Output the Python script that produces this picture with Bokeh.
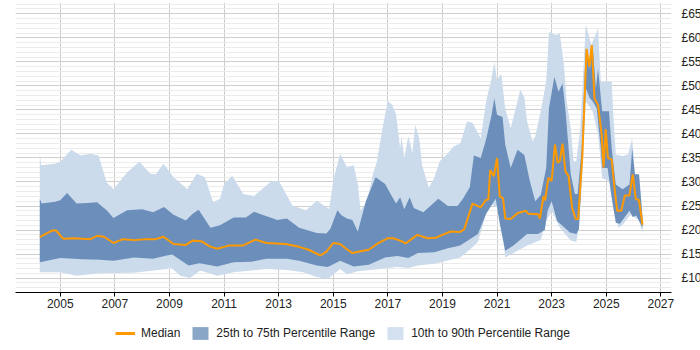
from bokeh.plotting import figure
from bokeh.layouts import column
from bokeh.models import (Range1d, FixedTicker, SingleIntervalTicker, PrintfTickFormatter,
                          LinearAxis, Legend, LegendItem)
from bokeh.embed import file_html
from bokeh.resources import INLINE

# Median hourly rate (decimal year, £)
median_t = [2004.25, 2004.5, 2004.7, 2004.85, 2005.1, 2005.5, 2006.1, 2006.35, 2006.6, 2006.95,
            2007.3, 2007.7, 2008.1, 2008.5, 2008.78, 2009.15, 2009.6, 2009.85, 2010.2, 2010.47,
            2010.75, 2011.2, 2011.7, 2012.15, 2012.55, 2013.25, 2013.75, 2014.1, 2014.53, 2014.75,
            2015.0, 2015.25, 2015.5, 2015.7, 2016.0, 2016.3, 2016.6, 2017.0, 2017.2, 2017.45,
            2017.65, 2018.08, 2018.45, 2018.75, 2019.0, 2019.3, 2019.65, 2019.8, 2020.1, 2020.4,
            2020.6, 2020.68, 2020.75, 2020.88, 2021.0, 2021.1, 2021.22, 2021.3, 2021.5, 2021.75,
            2022.05, 2022.15, 2022.5, 2022.57, 2022.7, 2022.76, 2022.88, 2023.0, 2023.12, 2023.22,
            2023.3, 2023.4, 2023.5, 2023.62, 2023.75, 2023.88, 2023.97, 2024.12, 2024.28, 2024.38,
            2024.47, 2024.57, 2024.7, 2024.83, 2024.9, 2024.98, 2025.06, 2025.2, 2025.3, 2025.4,
            2025.55, 2025.68, 2025.85, 2025.97, 2026.08, 2026.2, 2026.33]
median_v = [18.5, 19.3, 19.9, 19.9, 18.2, 18.3, 18.1, 18.8, 18.6, 17.3,
            18.1, 17.9, 18.1, 18.1, 18.6, 17.1, 16.9, 17.8, 17.6, 16.6,
            16.1, 16.8, 16.8, 18.0, 17.3, 17.1, 16.5, 15.9, 14.7, 15.5,
            17.3, 17.1, 16.0, 15.2, 15.6, 15.9, 17.1, 18.3, 18.3, 17.8,
            17.2, 19.0, 18.3, 18.4, 19.0, 19.7, 19.6, 20.2, 25.5, 24.7,
            26.3, 26.3, 32.5, 31.2, 35.0, 27.0, 26.6, 22.4, 22.3, 23.5,
            24.0, 23.4, 23.3, 22.4, 27.0, 26.2, 30.9, 30.2, 37.8, 34.0,
            34.4, 38.0, 32.3, 31.2, 24.6, 22.3, 22.3, 35.0, 57.7, 54.0,
            58.5, 47.4, 46.0, 39.9, 33.0, 41.0, 35.0, 34.7, 28.8, 24.0,
            24.0, 27.2, 27.2, 31.6, 26.5, 26.2, 21.1]

# 75th percentile
p75_t = [2004.25, 2004.32, 2004.8, 2005.0, 2005.25, 2005.6, 2006.0, 2006.35, 2006.7, 2006.95,
         2007.45, 2008.0, 2008.4, 2008.8, 2009.15, 2009.6, 2009.85, 2010.07, 2010.5, 2010.85,
         2011.35, 2011.8, 2012.1, 2012.4, 2012.95, 2013.3, 2013.75, 2014.4, 2014.75, 2014.9,
         2015.15, 2015.3, 2015.5, 2015.7, 2015.9, 2016.2, 2016.55, 2016.9, 2017.1, 2017.3,
         2017.45, 2017.6, 2017.8, 2017.95, 2018.3, 2018.85, 2019.2, 2019.55, 2019.75, 2020.0,
         2020.15, 2020.4, 2020.6, 2020.8, 2020.9, 2021.0, 2021.2, 2021.3, 2021.5, 2021.75,
         2022.0, 2022.2, 2022.4, 2022.6, 2022.8, 2022.9, 2023.1, 2023.25, 2023.4, 2023.5,
         2023.6, 2023.7, 2023.85, 2023.95, 2024.1, 2024.25, 2024.4, 2024.5, 2024.62, 2024.7,
         2024.85, 2025.1, 2025.2, 2025.35, 2025.6, 2025.85, 2025.95, 2026.05, 2026.2, 2026.33]
p75_v = [26.5, 25.5, 25.9, 26.2, 27.7, 25.5, 25.6, 25.8, 24.1, 22.5,
         24.1, 24.3, 23.7, 24.8, 23.2, 22.0, 23.4, 24.2, 20.5, 21.0,
         22.6, 22.6, 23.8, 23.2, 22.1, 22.4, 20.5, 19.4, 19.3, 20.3,
         24.1, 23.1, 22.4, 22.1, 19.7, 26.1, 31.0, 29.6, 27.5, 25.5,
         26.8, 24.3, 26.8, 24.6, 23.7, 26.5, 25.0, 25.0, 26.5, 28.9,
         35.5, 35.0, 38.9, 44.0, 47.4, 44.0, 43.5, 37.8, 32.9, 36.7,
         35.6, 30.2, 26.0, 27.3, 32.9, 45.3, 51.9, 48.8, 50.5, 45.3,
         38.5, 31.6, 27.5, 27.5, 37.0, 57.7, 53.5, 58.5, 49.5, 53.6,
         44.7, 44.7, 37.0, 29.5, 28.5, 29.5, 37.0, 31.6, 31.6, 22.5]

# 25th percentile
p25_t = [2004.25, 2005.0, 2005.8, 2006.45, 2006.95, 2007.7, 2008.4, 2008.9, 2009.1, 2009.7,
         2010.1, 2010.75, 2011.35, 2012.0, 2012.55, 2013.3, 2013.75, 2014.4, 2014.8, 2015.25,
         2015.75, 2016.3, 2016.9, 2017.35, 2017.75, 2018.1, 2018.7, 2019.2, 2019.65, 2020.3,
         2020.6, 2020.95, 2021.1, 2021.3, 2021.6, 2022.1, 2022.5, 2022.75, 2022.85, 2023.0,
         2023.2, 2023.67, 2023.9, 2024.0, 2024.1, 2024.25, 2024.4, 2024.5, 2024.65, 2024.8,
         2024.85, 2025.05, 2025.2, 2025.35, 2025.5, 2025.85, 2025.97, 2026.1, 2026.33]
p25_v = [13.3, 14.2, 13.9, 13.8, 13.6, 14.3, 14.0, 14.7, 14.9, 12.6,
         13.1, 12.4, 13.3, 13.4, 14.0, 14.0, 13.6, 12.6, 12.3, 13.6,
         12.4, 12.8, 14.3, 14.6, 14.2, 15.2, 15.4, 16.2, 16.8, 19.2,
         23.4, 26.5, 21.3, 15.7, 16.8, 19.2, 19.2, 20.0, 24.0, 26.0,
         21.9, 19.5, 19.2, 20.2, 31.6, 49.5, 47.4, 46.8, 45.3, 37.0,
         32.9, 32.9, 26.7, 21.5, 21.3, 24.0, 22.7, 23.0, 20.5]

# 90th percentile
p90_t = [2004.25, 2004.3, 2004.8, 2005.0, 2005.4, 2005.75, 2006.1, 2006.4, 2006.7, 2006.95,
         2007.45, 2007.9, 2008.3, 2008.5, 2008.78, 2009.15, 2009.65, 2010.0, 2010.3, 2010.6,
         2010.85, 2011.0, 2011.3, 2011.7, 2012.1, 2012.7, 2013.0, 2013.5, 2014.0, 2014.4,
         2014.85, 2015.0, 2015.25, 2015.5, 2015.75, 2015.9, 2016.0, 2016.25, 2016.45, 2016.6,
         2016.8, 2017.0, 2017.15, 2017.3, 2017.45, 2017.5, 2017.6, 2017.75, 2017.9, 2018.0,
         2018.15, 2018.25, 2018.5, 2018.7, 2018.9, 2019.2, 2019.4, 2019.65, 2019.9, 2020.1,
         2020.4, 2020.6, 2020.8, 2020.9, 2021.0, 2021.15, 2021.3, 2021.5, 2021.7, 2021.85,
         2022.0, 2022.1, 2022.3, 2022.4, 2022.6, 2022.8, 2022.9, 2023.15, 2023.3, 2023.45,
         2023.55, 2023.7, 2023.8, 2023.9, 2024.05, 2024.25, 2024.45, 2024.7, 2024.8, 2025.2,
         2025.25, 2025.35, 2025.6, 2025.8, 2025.95, 2026.05, 2026.2, 2026.33]
p90_v = [35.9, 33.5, 33.8, 34.2, 36.7, 35.5, 35.9, 35.5, 29.9, 28.5,
         32.0, 34.2, 31.7, 31.6, 33.8, 31.0, 28.5, 31.7, 31.0, 25.8,
         26.5, 29.6, 31.3, 27.5, 27.1, 30.0, 30.3, 25.1, 24.1, 26.1,
         24.4, 30.3, 35.9, 33.1, 33.5, 29.6, 24.1, 26.1, 31.6, 34.3,
         41.2, 46.8, 46.1, 44.1, 37.0, 39.5, 35.0, 39.5, 36.0, 41.9,
         39.1, 33.6, 28.8, 30.9, 34.3, 36.0, 37.4, 38.0, 42.6, 42.3,
         39.1, 46.8, 51.6, 55.0, 51.0, 52.6, 45.3, 41.2, 45.7, 49.2,
         47.6, 42.6, 38.5, 39.5, 44.7, 50.9, 61.2, 60.6, 60.9, 54.4,
         46.8, 41.2, 34.3, 34.3, 41.2, 62.9, 58.5, 61.9, 50.9, 50.9,
         44.7, 35.7, 35.4, 35.7, 39.1, 31.6, 31.6, 22.5]

# 10th percentile
p10_t = [2004.25, 2005.0, 2005.6, 2006.45, 2007.7, 2008.9, 2009.05, 2009.4, 2009.75, 2010.13,
         2010.75, 2011.35, 2012.55, 2013.3, 2013.9, 2014.4, 2014.8, 2015.25, 2015.5, 2015.9,
         2016.7, 2017.35, 2017.75, 2018.1, 2018.7, 2019.65, 2020.1, 2020.3, 2020.6, 2020.75,
         2021.0, 2021.2, 2021.3, 2021.6, 2022.1, 2022.6, 2022.8, 2023.0, 2023.3, 2023.7,
         2023.9, 2024.0, 2024.1, 2024.25, 2024.5, 2024.7, 2024.85, 2025.1, 2025.25, 2025.45,
         2025.6, 2025.9, 2026.2, 2026.33]
p10_v = [11.2, 11.2, 10.5, 11.0, 11.1, 11.9, 12.2, 10.5, 10.0, 11.6,
         10.5, 11.2, 11.9, 11.7, 11.2, 10.2, 9.8, 11.9, 10.8, 11.4,
         11.9, 12.3, 12.1, 12.6, 13.0, 14.3, 16.4, 17.5, 23.4, 25.4,
         24.7, 19.1, 14.3, 15.2, 16.8, 17.9, 21.9, 24.0, 20.5, 17.8,
         17.5, 20.5, 28.8, 46.8, 44.7, 39.9, 30.8, 30.2, 24.6, 20.5,
         21.1, 23.3, 22.0, 19.2]

year_ticks = [2005, 2007, 2009, 2011, 2013, 2015, 2017, 2019, 2021, 2023, 2025, 2027]

FONT = "Liberation Sans"
ORANGE = "#ff9900"

band90_xs = p90_t + p10_t[::-1]
band90_ys = p90_v + p10_v[::-1]
band75_xs = p75_t + p25_t[::-1]
band75_ys = p75_v + p25_v[::-1]

# ---- main chart -------------------------------------------------------------
p = figure(frame_width=656, frame_height=290, output_backend="svg", toolbar_location=None,
           x_range=Range1d(2003.36, 2027.39), y_range=Range1d(7.0, 67.35),
           min_border_left=15, min_border_right=29, min_border_top=2, min_border_bottom=26,
           y_axis_location=None, outline_line_color=None)

p.patch(band90_xs, band90_ys, fill_color="#cbdbec", line_color=None)
p.patch(band75_xs, band75_ys, fill_color="#6b8fba", line_color=None)
p.line(median_t, median_v, line_color=ORANGE, line_width=2)

p.xaxis.ticker = FixedTicker(ticks=year_ticks)
p.xaxis.axis_line_color = "#000000"
p.xaxis.major_tick_line_color = "#000000"
p.xaxis.major_tick_out = 4
p.xaxis.major_tick_in = 0
p.xaxis.minor_tick_line_color = None
p.xaxis.major_label_standoff = 2
p.xaxis.major_label_text_font = FONT
p.xaxis.major_label_text_font_size = "12px"
p.xaxis.major_label_text_color = "#222222"

yax = LinearAxis(ticker=SingleIntervalTicker(interval=5, num_minor_ticks=5),
                 formatter=PrintfTickFormatter(format="£%d"))
yax.axis_line_color = None
yax.major_tick_line_color = None
yax.minor_tick_line_color = None
yax.major_label_standoff = 4
yax.major_label_text_font = FONT
yax.major_label_text_font_size = "12px"
yax.major_label_text_color = "#222222"
p.add_layout(yax, "right")

p.xgrid.grid_line_color = "#cccccc"
p.ygrid.ticker = yax.ticker
p.ygrid.grid_line_color = "#cfcfcf"
p.ygrid.minor_grid_line_color = "#ebebeb"

# ---- legend strip -----------------------------------------------------------
# the same series drawn off-range, only so the legend has glyphs to show
leg = figure(width=700, height=32, output_backend="svg", toolbar_location=None,
             x_range=Range1d(0, 1), y_range=Range1d(0, 1),
             x_axis_location=None, y_axis_location=None, outline_line_color=None,
             min_border=0)
leg.xgrid.visible = False
leg.ygrid.visible = False
r_med = leg.line(median_t, median_v, line_color=ORANGE, line_width=3)
r_75 = leg.patch(band75_xs, band75_ys, fill_color="#8aa6c7", line_color=None)
r_90 = leg.patch(band90_xs, band90_ys, fill_color="#d2e0ef", line_color=None)

legend = Legend(items=[
    LegendItem(label="Median", renderers=[r_med]),
    LegendItem(label="25th to 75th Percentile Range", renderers=[r_75]),
    LegendItem(label="10th to 90th Percentile Range", renderers=[r_90]),
], orientation="horizontal", location=(100, 9),
    label_text_font=FONT, label_text_font_size="12px", label_text_color="#222222",
    glyph_width=20, glyph_height=16, label_height=16, label_standoff=6, spacing=10,
    padding=0, margin=0, border_line_color=None, background_fill_alpha=0)
leg.add_layout(legend, "center")

layout = column(p, leg, spacing=0)
open("out.html", "w").write(file_html(layout, INLINE))
